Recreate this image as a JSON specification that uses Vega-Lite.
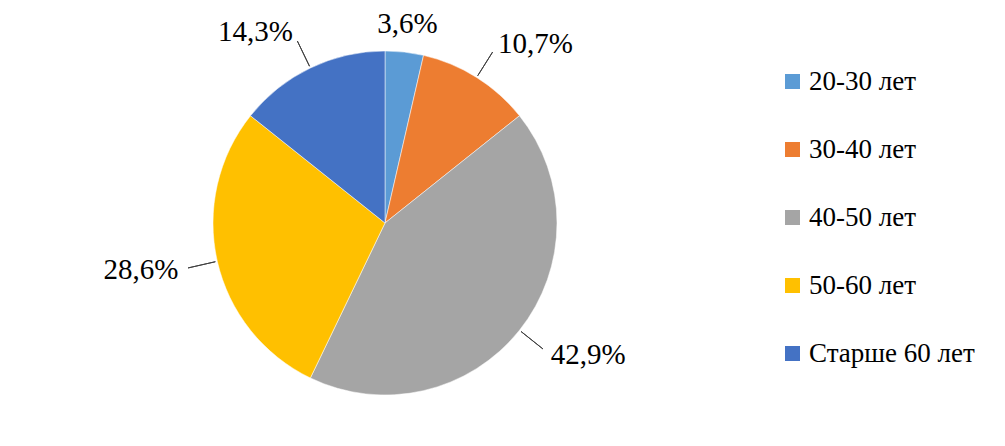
{
  "$schema": "https://vega.github.io/schema/vega-lite/v6.json",
  "width": 770,
  "height": 446,
  "padding": 0,
  "autosize": {"type": "pad"},
  "background": "white",
  "config": {"view": {"stroke": null}, "font": "Liberation Serif, Tinos, Times, DejaVu Serif, serif"},
  "data": {
    "values": [
      {"group": "20-30 лет", "share": 3.6},
      {"group": "30-40 лет", "share": 10.7},
      {"group": "40-50 лет", "share": 42.9},
      {"group": "50-60 лет", "share": 28.6},
      {"group": "Старше 60 лет", "share": 14.3}
    ]
  },
  "transform": [
    {"window": [{"op": "sum", "field": "share", "as": "cum"}], "sort": [{"field": "group"}], "frame": [null, 0]},
    {"joinaggregate": [{"op": "sum", "field": "share", "as": "total"}]},
    {"calculate": "datum.cum - datum.share", "as": "start"},
    {"calculate": "datum.cum - datum.share / 2", "as": "mid"},
    {"calculate": "replace(format(datum.share, '.1f'), '.', ',') + '%'", "as": "label"}
  ],
  "layer": [
    {
      "mark": {"type": "arc", "radius": 172, "stroke": "white", "strokeWidth": 0.5},
      "encoding": {
        "theta": {"field": "cum", "type": "quantitative", "stack": null, "scale": {"nice": false, "zero": true}},
        "theta2": {"field": "start"},
        "color": {
          "field": "group",
          "type": "nominal",
          "scale": {
            "domain": ["20-30 лет", "30-40 лет", "40-50 лет", "50-60 лет", "Старше 60 лет"],
            "range": ["#5B9BD5", "#ED7D31", "#A5A5A5", "#FFC000", "#4472C4"]
          },
          "legend": {
            "title": null,
            "orient": "none",
            "legendX": 779,
            "legendY": 68,
            "padding": 0,
            "symbolType": "square",
            "symbolSize": 225,
            "symbolStrokeWidth": 0,
            "labelFont": "Liberation Serif, Tinos, Times, DejaVu Serif, serif",
            "labelFontSize": 27,
            "labelColor": "black",
            "labelOffset": 3,
            "rowPadding": 40,
            "labelLimit": 300
          }
        }
      }
    },
    {
      "transform": [{"filter": "datum.share > 5"}],
      "mark": {"type": "arc", "radius": 202, "radius2": 174, "filled": false, "stroke": "#404040", "strokeWidth": 1},
      "encoding": {
        "theta": {"field": "mid", "type": "quantitative", "stack": null},
        "theta2": {"field": "mid"}
      }
    },
    {
      "transform": [{"filter": "datum.share <= 5"}],
      "mark": {"type": "text", "radius": 200, "align": "center", "baseline": "middle", "fontSize": 29, "font": "Liberation Serif, Tinos, Times, DejaVu Serif, serif", "color": "black"},
      "encoding": {
        "theta": {"field": "mid", "type": "quantitative", "stack": null},
        "text": {"field": "label"}
      }
    },
    {
      "transform": [{"filter": "datum.share > 5 && datum.mid < datum.total / 2"}],
      "mark": {"type": "text", "radius": 212, "align": "left", "baseline": "middle", "fontSize": 29, "font": "Liberation Serif, Tinos, Times, DejaVu Serif, serif", "color": "black"},
      "encoding": {
        "theta": {"field": "mid", "type": "quantitative", "stack": null},
        "text": {"field": "label"}
      }
    },
    {
      "transform": [{"filter": "datum.share > 5 && datum.mid >= datum.total / 2"}],
      "mark": {"type": "text", "radius": 212, "align": "right", "baseline": "middle", "fontSize": 29, "font": "Liberation Serif, Tinos, Times, DejaVu Serif, serif", "color": "black"},
      "encoding": {
        "theta": {"field": "mid", "type": "quantitative", "stack": null},
        "text": {"field": "label"}
      }
    }
  ]
}
